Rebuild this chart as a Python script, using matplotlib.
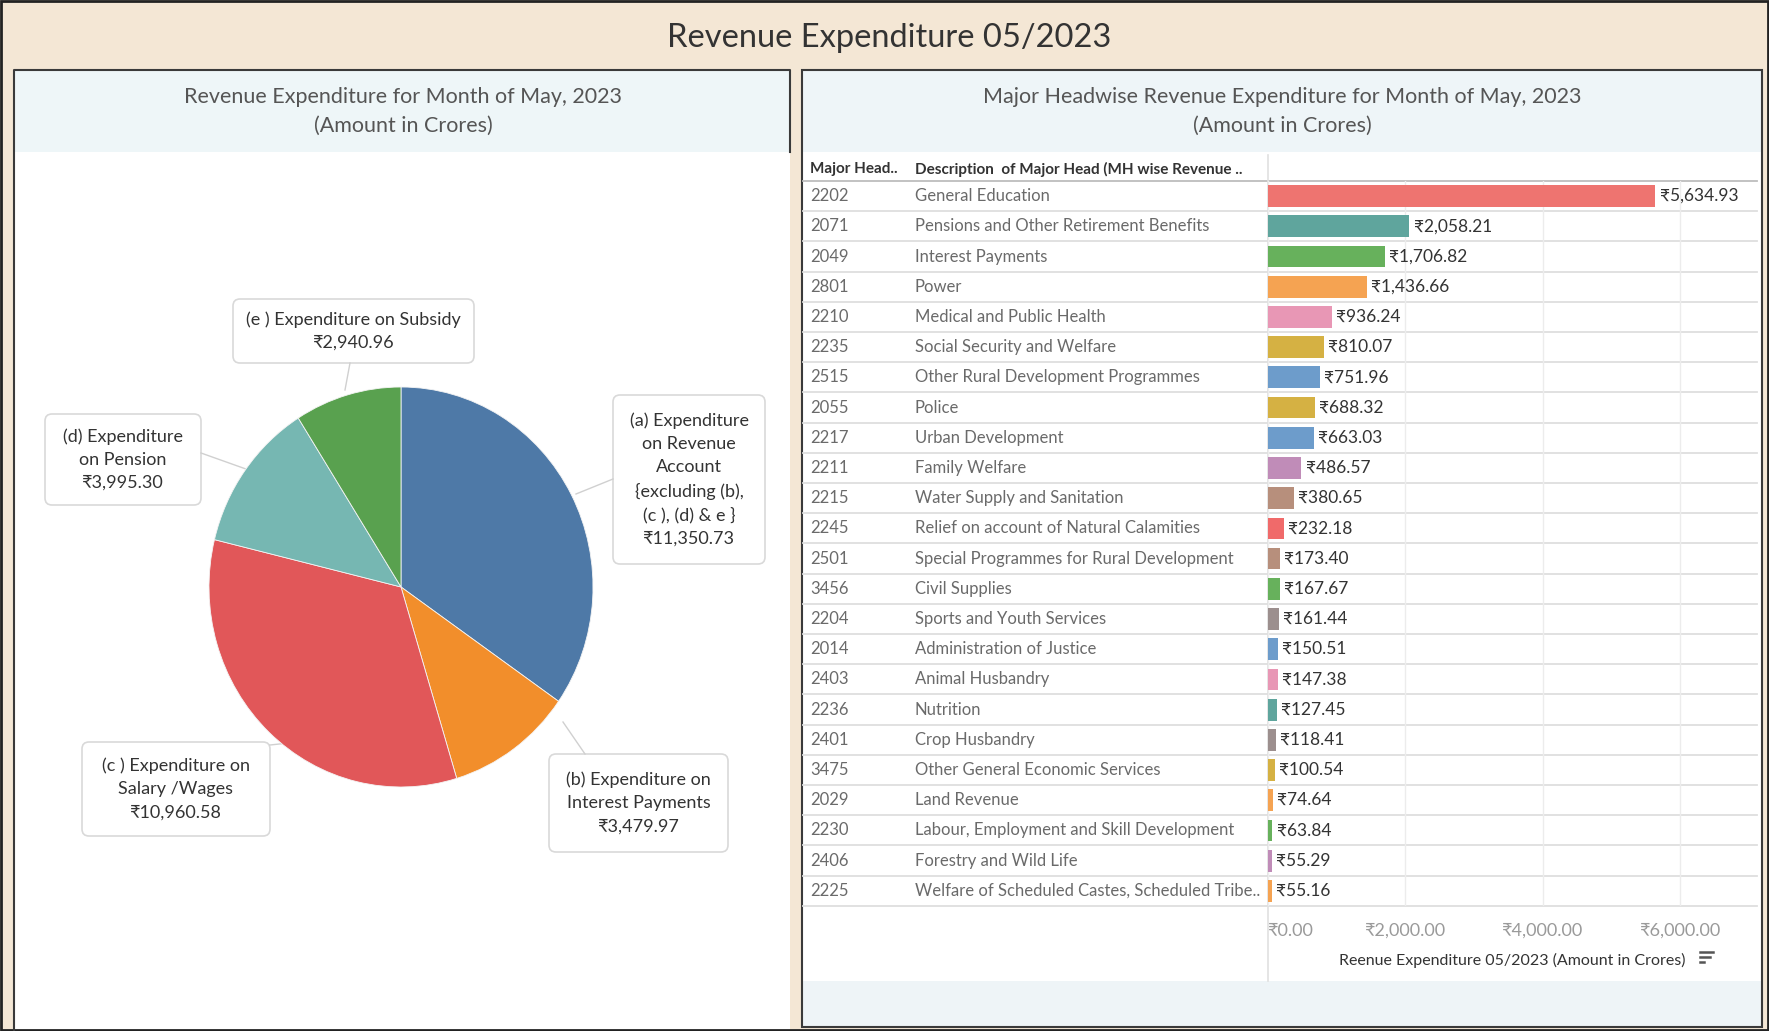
import matplotlib.pyplot as plt
from matplotlib.patches import Rectangle, FancyBboxPatch
from matplotlib.transforms import blended_transform_factory

plt.rcParams['font.family'] = ['Lato', 'DejaVu Sans']

# pie data
pie_labels = ["(a) Expenditure\non Revenue\nAccount\n{excluding (b),\n(c ), (d) & e }",
              "(b) Expenditure on\nInterest Payments",
              "(c ) Expenditure on\nSalary /Wages",
              "(d) Expenditure\non Pension",
              "(e ) Expenditure on Subsidy"]
pie_values = [11350.73, 3479.97, 10960.58, 3995.30, 2940.96]
pie_colors = ["#4E79A7", "#F28E2B", "#E15759", "#76B7B2", "#59A14F"]

# major head table
codes = ["2202", "2071", "2049", "2801", "2210", "2235", "2515", "2055", "2217", "2211",
         "2215", "2245", "2501", "3456", "2204", "2014", "2403", "2236", "2401", "3475",
         "2029", "2230", "2406", "2225"]
descriptions = ["General Education", "Pensions and Other Retirement Benefits", "Interest Payments",
                "Power", "Medical and Public Health", "Social Security and Welfare",
                "Other Rural Development Programmes", "Police", "Urban Development",
                "Family Welfare", "Water Supply and Sanitation",
                "Relief on account of Natural Calamities",
                "Special Programmes for Rural Development", "Civil Supplies",
                "Sports and Youth Services", "Administration of Justice", "Animal Husbandry",
                "Nutrition", "Crop Husbandry", "Other General Economic Services", "Land Revenue",
                "Labour, Employment and Skill Development", "Forestry and Wild Life",
                "Welfare of Scheduled Castes, Scheduled Tribe.."]
amounts = [5634.93, 2058.21, 1706.82, 1436.66, 936.24, 810.07, 751.96, 688.32, 663.03, 486.57,
           380.65, 232.18, 173.40, 167.67, 161.44, 150.51, 147.38, 127.45, 118.41, 100.54,
           74.64, 63.84, 55.29, 55.16]
bar_colors = ["#EE7470", "#5FA59D", "#67B15C", "#F5A352", "#E897B5", "#D5B143", "#6D9CCB",
              "#D5B143", "#6D9CCB", "#C08CB8", "#B78F7C", "#F06A6A", "#B78F7C", "#67B15C",
              "#9C8F8E", "#6D9CCB", "#E897B5", "#5FA59D", "#9C8F8E", "#D5B143", "#F5A352",
              "#67B15C", "#C08CB8", "#F5A352"]
x_ticks = [0, 2000, 4000, 6000]

W, H = 1769, 1031
fig = plt.figure(figsize=(W / 100, H / 100), dpi=100)
fig.patch.set_facecolor("#F4E7D5")

# background axes in pixel units
bg = fig.add_axes([0, 0, 1, 1])
bg.set_xlim(0, W)
bg.set_ylim(H, 0)
bg.axis("off")


def px_axes(x0, y0, x1, y1):
    return fig.add_axes([x0 / W, 1 - y1 / H, (x1 - x0) / W, (y1 - y0) / H])


# panels
bg.add_patch(Rectangle((14, 70), 776, 82, fc="#EEF6F8", ec="none"))
bg.add_patch(Rectangle((14, 152), 776, 879, fc="white", ec="none"))
bg.add_patch(Rectangle((802, 70), 960, 82, fc="#EEF5F8", ec="none"))
bg.add_patch(Rectangle((802, 152), 960, 829, fc="white", ec="none"))
bg.add_patch(Rectangle((802, 981), 960, 46, fc="#EEF4F7", ec="none"))
bg.add_patch(Rectangle((802, 70), 960, 957, fill=False, ec="#3a3a3a", lw=1.5))
bg.plot([14, 14, 790, 790], [1031, 70, 70, 152], color="#3a3a3a", lw=1.5)
bg.add_patch(Rectangle((1, 1), W - 2, H - 2, fill=False, ec="#222222", lw=2))

# titles
bg.text(889, 38, "Revenue Expenditure 05/2023", ha="center", va="center",
        fontsize=23.5, color="#333333")
bg.text(403, 97, "Revenue Expenditure for Month of May, 2023", ha="center", va="center",
        fontsize=15.5, color="#555555")
bg.text(403, 126, "(Amount in Crores)", ha="center", va="center", fontsize=15.5, color="#555555")
bg.text(1282, 97, "Major Headwise Revenue Expenditure for Month of May, 2023", ha="center",
        va="center", fontsize=15.5, color="#555555")
bg.text(1282, 126, "(Amount in Crores)", ha="center", va="center", fontsize=15.5, color="#555555")

# pie
pax = px_axes(209, 387, 593, 787)
pax.pie(pie_values, colors=pie_colors, startangle=90, counterclock=False, radius=1,
        wedgeprops=dict(linewidth=0.6, edgecolor="#f4f4f4"))
pax.set_aspect("auto")
pax.set_xlim(-1, 1)
pax.set_ylim(-1, 1)

# label boxes: (x0, y0, x1, y1), leader line
boxes = [(613, 395, 765, 564), (549, 754, 728, 852), (82, 742, 270, 836),
         (45, 414, 201, 505), (233, 299, 474, 363)]
leaders = [((613, 479), (576, 494)), ((585, 754), (563, 722)), ((270, 745), (298, 742)),
           ((201, 453), (274, 479)), ((350, 363), (345, 390))]
for lab, v, (x0, y0, x1, y1), (p, q) in zip(pie_labels, pie_values, boxes, leaders):
    bg.plot([p[0], q[0]], [p[1], q[1]], color="#d0d0d0", lw=1)
    bg.add_patch(FancyBboxPatch((x0, y0), x1 - x0, y1 - y0,
                                boxstyle="round,pad=0,rounding_size=7",
                                fc="white", ec="#d9d9d9", lw=1.2))
    bg.text((x0 + x1) / 2, (y0 + y1) / 2, lab + "\n₹{:,.2f}".format(v), ha="center",
            va="center", fontsize=13, color="#333333", linespacing=1.55)

# table
row_top, row_h = 181, 30.2
n = len(codes)
for k in range(n + 1):
    y = row_top + row_h * k
    bg.plot([803, 1757], [y, y], color="#bdbdbd" if k == 0 else "#dedede", lw=1.3, zorder=1)
bg.plot([1268, 1268], [155, 981], color="#e0e0e0", lw=1.2)
bg.text(810, 169, "Major Head..", ha="left", va="center", fontsize=11,
        fontweight="bold", color="#333333")
bg.text(915, 169, "Description  of Major Head (MH wise Revenue ..", ha="left", va="center",
        fontsize=11, fontweight="bold", color="#333333")

ax = px_axes(1268, 181, 1757, 906)
ax.patch.set_alpha(0)
ax.barh(range(n), amounts, height=0.72, color=bar_colors, zorder=3)
ax.set_ylim(n - 0.5, -0.5)
ax.set_xlim(0, 7113)
for s in ax.spines.values():
    s.set_visible(False)
ax.set_yticks([])
ax.set_xticks(x_ticks)
ax.set_xticklabels(["₹{:,.2f}".format(t) for t in x_ticks], fontsize=13, color="#9a9a9a")
ax.get_xticklabels()[0].set_ha("left")
ax.tick_params(axis="x", length=0, pad=12)
ax.grid(axis="x", color="#ececec", lw=1, zorder=0)
ax.set_axisbelow(True)

tr = blended_transform_factory(bg.transData, ax.transData)
for i in range(n):
    ax.text(810, i, codes[i], transform=tr, ha="left", va="center", fontsize=12, color="#6a6a6a")
    ax.text(915, i, descriptions[i], transform=tr, ha="left", va="center", fontsize=12,
            color="#6a6a6a")
    ax.text(amounts[i] + 60, i, "₹{:,.2f}".format(amounts[i]), ha="left", va="center",
            fontsize=12.5, color="#333333")

bg.text(1512, 960, "Reenue Expenditure 05/2023 (Amount in Crores)", ha="center", va="center",
        fontsize=11.5, color="#333333")
# sort icon
bg.plot([1700, 1713], [952, 952], color="#555555", lw=1.8)
bg.plot([1700, 1710], [957, 957], color="#555555", lw=1.8)
bg.plot([1700, 1704], [962, 962], color="#555555", lw=1.8)

fig.savefig("out.png", dpi=100, facecolor=fig.get_facecolor())
